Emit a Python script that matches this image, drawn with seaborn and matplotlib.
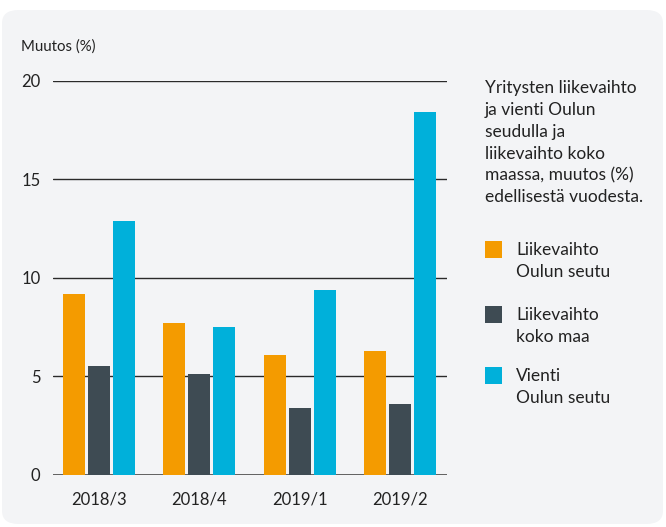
import numpy as np
import pandas as pd
import matplotlib
matplotlib.use("Agg")
import matplotlib.pyplot as plt
from matplotlib.patches import FancyBboxPatch, Rectangle
import seaborn as sns

# =========================
# DATA
# =========================
quarters = ["2018/3", "2018/4", "2019/1", "2019/2"]
series = ["Liikevaihto\nOulun seutu", "Liikevaihto\nkoko maa", "Vienti\nOulun seutu"]
liikevaihto_oulu = [9.2, 7.7, 6.1, 6.3]
liikevaihto_maa = [5.5, 5.1, 3.4, 3.6]
vienti_oulu = [12.9, 7.5, 9.4, 18.4]
yticks = [0, 5, 10, 15, 20]

colors = ["#f49b00", "#3e4b53", "#00b0da"]
CARD = "#f3f4f6"
TEXT = "#222222"

df = pd.DataFrame({
    "quarter": quarters * 3,
    "series": np.repeat(series, len(quarters)),
    "value": liikevaihto_oulu + liikevaihto_maa + vienti_oulu,
})

# =========================
# PLOT
# =========================
sns.set_style("white")
plt.rcParams["font.family"] = ["Lato", "DejaVu Sans"]

W, H = 666, 527
fig = plt.figure(figsize=(W / 100, H / 100), dpi=100, facecolor="white")
card = FancyBboxPatch((2 / W, 3 / H), 661 / W, 514 / H,
                      boxstyle="round,pad=0,rounding_size=0.025",
                      transform=fig.transFigure, facecolor=CARD, edgecolor="none", zorder=-5)
fig.add_artist(card)

ax = fig.add_axes([53 / W, 1 - 474.7 / H, 394 / W, 393.7 / H], zorder=2)
ax.patch.set_alpha(0)

sns.barplot(data=df, x="quarter", y="value", hue="series", hue_order=series,
            palette=colors, width=0.75, gap=0.12, saturation=1, legend=False,
            linewidth=0, edgecolor="none", ax=ax, zorder=3)

ax.set_ylim(0, 20)
ax.set_xlim(-0.46, 3.47)
ax.set_yticks(yticks)
ax.set_yticklabels([str(t) for t in yticks])
for t in yticks:
    ax.axhline(t, color="#555555" if t == 0 else "#2a2a2a", lw=1.3 if t == 0 else 1.0, zorder=1)
sns.despine(ax=ax, left=True, bottom=True)
ax.tick_params(axis="y", length=0, pad=9, labelsize=12, labelcolor=TEXT)
ax.tick_params(axis="x", length=0, pad=12, labelsize=12, labelcolor=TEXT)
ax.set_xlabel("")
ax.set_ylabel("")

fig.text(21 / W, 1 - 47 / H, "Muutos (%)", fontsize=10.8, color=TEXT, va="center", ha="left")

fig.text(485 / W, 1 - 80 / H,
         "Yritysten liikevaihto\nja vienti Oulun\nseudulla ja\nliikevaihto koko\nmaassa, muutos (%)\nedellisestä vuodesta.",
         fontsize=12.5, color=TEXT, va="top", ha="left", linespacing=1.45)

# legend: square + two-line label per series
legend_tops = [241, 306, 367]
for top, label, c in zip(legend_tops, series, colors):
    fig.add_artist(Rectangle((485 / W, 1 - (top + 17) / H), 17 / W, 17 / H,
                             transform=fig.transFigure, facecolor=c, edgecolor="none"))
    fig.text(516 / W, 1 - (top + 1) / H, label, fontsize=12.5, color=TEXT,
             va="top", ha="left", linespacing=1.45)

fig.savefig("out.png", dpi=100, facecolor="white")
